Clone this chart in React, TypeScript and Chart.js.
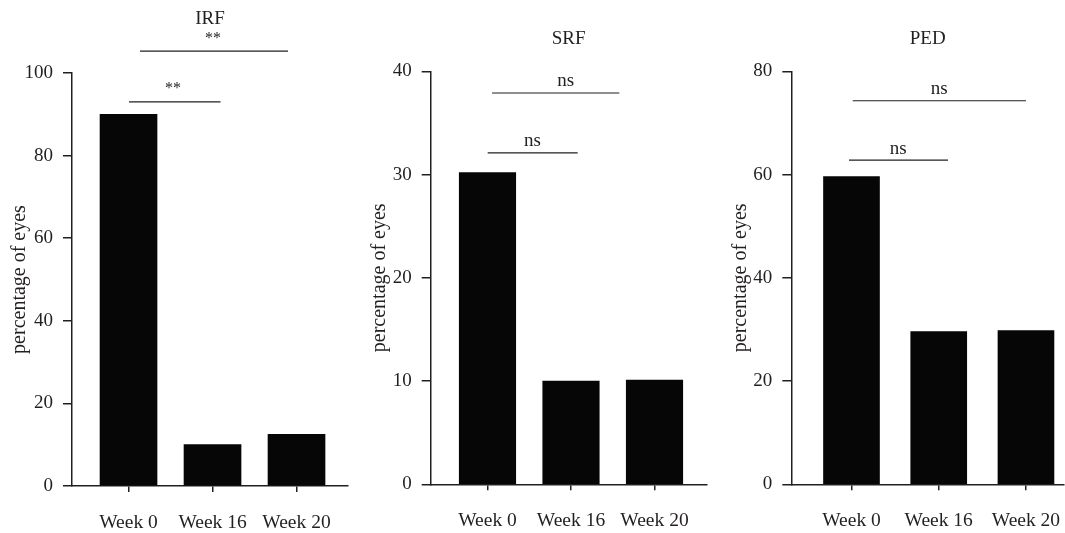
import React, { useEffect, useRef } from "react";
import { Chart, registerables } from "chart.js";

Chart.register(...registerables);

// ---- data ----
const categories = ["Week 0", "Week 16", "Week 20"];
const yAxisTitle = "percentage of eyes";

const irfTitle = "IRF";
const irfValues = [90, 10, 12.5];
const irfTicks = [0, 20, 40, 60, 80, 100];
const irfMarks = ["**", "**"];

const srfTitle = "SRF";
const srfValues = [30.2, 10, 10.1];
const srfTicks = [0, 10, 20, 30, 40];
const srfMarks = ["ns", "ns"];

const pedTitle = "PED";
const pedValues = [59.6, 29.6, 29.8];
const pedTicks = [0, 20, 40, 60, 80];
const pedMarks = ["ns", "ns"];

// ---- style ----
const FONT = "'Liberation Serif', 'DejaVu Serif', serif";
const TEXT = "#231f20";
const LINE = "#231f20";
const BAR = "#060606";

type Bracket = { from: number; to: number; level: number; textAt: number };

type PanelCfg = {
  title: string;
  values: number[];
  ticks: number[];
  marks: string[];
  left: number;
  width: number;
  axisW: number;
  padRight: number;
  titleTop: number;
  titleBottom: number;
  bottomH: number;
  xMin: number;
  xMax: number;
  barW: number;
  yTitlePad: number;
  markFont: number;
  markGap: number;
  brackets: Bracket[];
};

const TITLE_SIZE = 19;
const TITLE_LH = TITLE_SIZE * 1.2;

const panels: PanelCfg[] = [
  {
    title: irfTitle,
    values: irfValues,
    ticks: irfTicks,
    marks: irfMarks,
    left: 0,
    width: 360,
    axisW: 72,
    padRight: 12,
    titleTop: 19 - TITLE_LH / 2,
    titleBottom: 73 - (19 - TITLE_LH / 2) - TITLE_LH,
    bottomH: 47,
    xMin: -0.673,
    xMax: 2.613,
    barW: 57,
    yTitlePad: 8,
    markFont: 16,
    markGap: 8.5,
    brackets: [
      { from: 0.006, to: 1.095, level: 93.0, textAt: 0.53 },
      { from: 0.137, to: 1.899, level: 105.3, textAt: 1.006 },
    ],
  },
  {
    title: srfTitle,
    values: srfValues,
    ticks: srfTicks,
    marks: srfMarks,
    left: 360,
    width: 350,
    axisW: 70.7,
    padRight: 3.3,
    titleTop: 39 - TITLE_LH / 2,
    titleBottom: 71.3 - (39 - TITLE_LH / 2) - TITLE_LH,
    bottomH: 48.7,
    xMin: -0.68,
    xMax: 2.625,
    barW: 56.5,
    yTitlePad: 8,
    markFont: 19,
    markGap: 6.5,
    brackets: [
      { from: 0.002, to: 1.08, level: 32.1, textAt: 0.537 },
      { from: 0.054, to: 1.578, level: 37.9, textAt: 0.937 },
    ],
  },
  {
    title: pedTitle,
    values: pedValues,
    ticks: pedTicks,
    marks: pedMarks,
    left: 710,
    width: 355,
    axisW: 81.3,
    padRight: 1,
    titleTop: 39 - TITLE_LH / 2,
    titleBottom: 71.3 - (39 - TITLE_LH / 2) - TITLE_LH,
    bottomH: 48.7,
    xMin: -0.69,
    xMax: 2.436,
    barW: 56,
    yTitlePad: 19,
    markFont: 19,
    markGap: 6.5,
    brackets: [
      { from: -0.029, to: 1.106, level: 62.8, textAt: 0.536 },
      { from: 0.014, to: 2.0, level: 74.3, textAt: 1.006 },
    ],
  },
];

const bracketPlugin = {
  id: "brackets",
  afterDraw(chart: any, _args: any, opts: any) {
    const { ctx } = chart;
    const xs = chart.scales.x;
    const ys = chart.scales.y;
    ctx.save();
    ctx.strokeStyle = LINE;
    ctx.lineWidth = 1.2;
    ctx.fillStyle = TEXT;
    ctx.textAlign = "center";
    ctx.textBaseline = "alphabetic";
    ctx.font = `${opts.markFont}px ${FONT}`;
    (opts.items as Bracket[]).forEach((b, i) => {
      const py = ys.getPixelForValue(b.level);
      ctx.beginPath();
      ctx.moveTo(xs.getPixelForValue(b.from), py);
      ctx.lineTo(xs.getPixelForValue(b.to), py);
      ctx.stroke();
      ctx.fillText(opts.marks[i], xs.getPixelForValue(b.textAt), py - opts.gap);
    });
    ctx.restore();
  },
};

function Panel({ cfg }: { cfg: PanelCfg }) {
  const ref = useRef<HTMLCanvasElement>(null);
  useEffect(() => {
    const yMax = cfg.ticks[cfg.ticks.length - 1];
    const chart = new Chart(ref.current as HTMLCanvasElement, {
      type: "bar",
      data: {
        datasets: [
          {
            data: categories.map((_, i) => ({ x: i, y: cfg.values[i] })),
            backgroundColor: BAR,
            borderWidth: 0,
            barThickness: cfg.barW,
          } as any,
        ],
      },
      options: {
        animation: false,
        responsive: false,
        maintainAspectRatio: false,
        devicePixelRatio: 1,
        layout: { padding: { left: 0, right: cfg.padRight, top: cfg.titleTop, bottom: 0 } },
        plugins: {
          legend: { display: false },
          tooltip: { enabled: false },
          title: {
            display: true,
            fullSize: false,
            text: cfg.title,
            color: TEXT,
            font: { family: FONT, size: TITLE_SIZE, weight: "normal" as any },
            padding: { top: 0, bottom: cfg.titleBottom },
          },
          brackets: {
            items: cfg.brackets,
            marks: cfg.marks,
            markFont: cfg.markFont,
            gap: cfg.markGap,
          },
        } as any,
        scales: {
          x: {
            type: "linear",
            min: cfg.xMin,
            max: cfg.xMax,
            offset: false,
            grid: {
              offset: false,
              drawOnChartArea: false,
              drawTicks: true,
              tickLength: 6,
              color: LINE,
              lineWidth: 1.5,
            },
            border: { display: true, color: LINE, width: 1.5 },
            ticks: {
              padding: 19,
              color: TEXT,
              font: { family: FONT, size: 19.5 },
              autoSkip: false,
              maxRotation: 0,
              callback: (v: any) => categories[Math.round(Number(v))] ?? "",
            },
            afterBuildTicks: (s: any) => {
              s.ticks = categories.map((_, i) => ({ value: i }));
            },
            afterFit: (s: any) => {
              s.height = cfg.bottomH;
              s.paddingLeft = 0;
              s.paddingRight = 0;
            },
          },
          y: {
            type: "linear",
            min: 0,
            max: yMax,
            grid: {
              drawOnChartArea: false,
              drawTicks: true,
              tickLength: 9,
              color: LINE,
              lineWidth: 1.5,
            },
            border: { display: true, color: LINE, width: 1.5 },
            ticks: {
              padding: 10,
              color: TEXT,
              font: { family: FONT, size: 19 },
            },
            afterBuildTicks: (s: any) => {
              s.ticks = cfg.ticks.map((v) => ({ value: v }));
            },
            title: {
              display: true,
              text: yAxisTitle,
              color: TEXT,
              font: { family: FONT, size: 20 },
              padding: { top: cfg.yTitlePad, bottom: 0 },
            },
            afterFit: (s: any) => {
              s.width = cfg.axisW;
              s.paddingTop = 0;
              s.paddingBottom = 0;
            },
          },
        } as any,
      },
      plugins: [bracketPlugin as any],
    });
    return () => chart.destroy();
  }, [cfg]);
  return (
    <div style={{ position: "absolute", left: cfg.left, top: 0, width: cfg.width, height: 533 }}>
      <canvas ref={ref} width={cfg.width} height={533} style={{ width: cfg.width, height: 533, display: "block" }} />
    </div>
  );
}

export default function App() {
  return (
    <div style={{ position: "fixed", left: 0, top: 0, width: 1065, height: 533, background: "#fff", overflow: "hidden" }}>
      {panels.map((p) => (
        <Panel key={p.title} cfg={p} />
      ))}
    </div>
  );
}
